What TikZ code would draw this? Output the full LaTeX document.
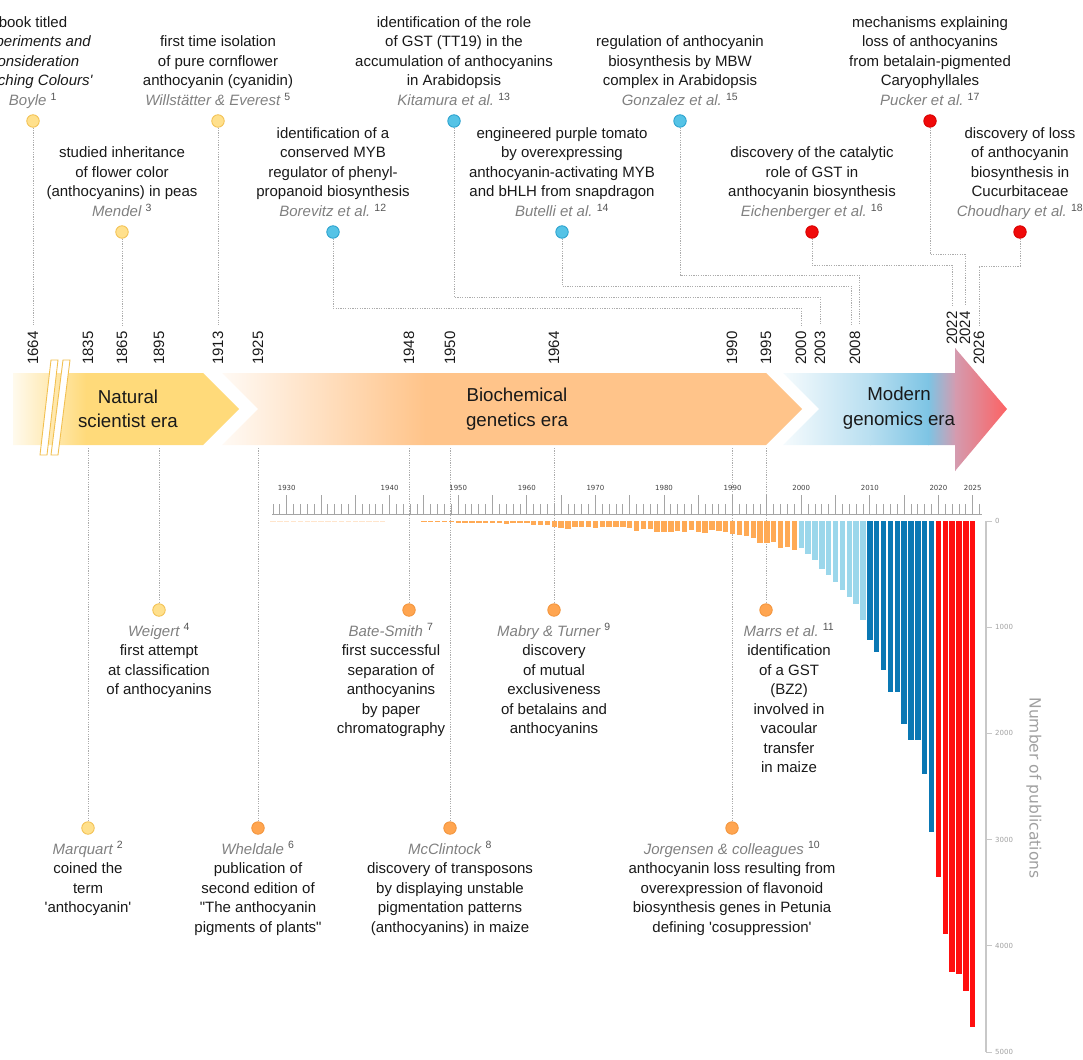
\documentclass[tikz,border=0pt]{standalone}
\usepackage{fontspec}
\setmainfont{Liberation Sans}
\newfontfamily\chartfont{DejaVu Sans}
\usetikzlibrary{positioning,calc}
\definecolor{natfill}{RGB}{255,224,140}
\definecolor{natline}{RGB}{242,192,80}
\definecolor{natarrow}{RGB}{255,218,122}
\definecolor{biofill}{RGB}{255,165,80}
\definecolor{bioline}{RGB}{242,148,60}
\definecolor{bioarrow}{RGB}{255,196,138}
\definecolor{modfill}{RGB}{85,195,230}
\definecolor{modline}{RGB}{40,160,205}
\definecolor{modarrow}{RGB}{125,196,228}
\definecolor{modmauve}{RGB}{212,155,175}
\definecolor{modred}{RGB}{255,95,95}
\definecolor{gnmfill}{RGB}{240,10,10}
\definecolor{gnmline}{RGB}{215,0,0}
\definecolor{authgrey}{RGB}{128,128,128}
\definecolor{refgrey}{RGB}{85,85,85}
\definecolor{linegrey}{RGB}{172,172,172}
\definecolor{tickgrey}{RGB}{165,165,165}
\definecolor{axisgrey}{RGB}{200,200,200}
\definecolor{pubgrey}{RGB}{160,160,160}
\definecolor{barorange}{RGB}{255,170,85}
\definecolor{barlight}{RGB}{155,215,235}
\definecolor{bardark}{RGB}{10,120,180}
\definecolor{barred}{RGB}{255,15,15}
\newcommand{\who}[2]{{\itshape\color{authgrey}#1}~{\color{refgrey}\textsuperscript{#2}}}
\newcommand{\evfont}{\fontsize{15}{19.5}\selectfont}
\newcommand{\sq}{\textquotesingle}

\begin{document}
\begin{tikzpicture}[x=1pt, y=-1pt, font=\evfont]
      \tikzstyle{ev}=[align=center, inner sep=0pt, text=black!90]
      \tikzstyle{dotN}=[circle, draw=natline, fill=natfill, line width=0.8pt, minimum size=12.5pt, inner sep=0pt]
      \tikzstyle{dotB}=[dotN, draw=bioline, fill=biofill]
      \tikzstyle{dotM}=[dotN, draw=modline, fill=modfill]
      \tikzstyle{dotG}=[dotN, draw=gnmline, fill=gnmfill]
      \tikzstyle{yr}=[rotate=90, anchor=west, inner xsep=6pt, inner ysep=0pt, text=black!90]
      \tikzstyle{tl}=[draw=linegrey, line width=1pt, dash pattern=on 1.2pt off 1.2pt]
      \tikzstyle{era}=[align=center, font=\fontsize{18.7}{24.5}\selectfont, text=black!90]
      \tikzstyle{tick}=[draw=tickgrey, line width=0.9pt]
      \tikzstyle{chartlab}=[font=\chartfont\fontsize{7}{8}\selectfont, text=black!75]
      \useasboundingbox (0,0) rectangle (1083,1059);

      % era arrows
      \begin{scope}
        \clip (13,373) -- (203,373) -- (239,409) -- (203,445) -- (13,445) -- cycle;
        \shade[left color=natarrow!10, right color=natarrow] (10,370) rectangle (86,450);
        \fill[natarrow] (85.5,370) rectangle (245,450);
      \end{scope}
      \begin{scope}
        \clip (222,373) -- (766,373) -- (802,409) -- (766,445) -- (222,445) -- (258,409) -- cycle;
        \shade[left color=bioarrow!8, right color=bioarrow] (220,370) rectangle (425,450);
        \fill[bioarrow] (424.5,370) rectangle (805,450);
      \end{scope}
      \begin{scope}
        \clip (783,373) -- (955,373) -- (955,348) -- (1007,409) -- (955,471) -- (955,445) -- (783,445) -- (819,409) -- cycle;
        \shade[left color=modarrow!6, right color=modarrow!55] (780,340) rectangle (871,480);
        \shade[left color=modarrow!55, right color=modarrow] (870,340) rectangle (929,480);
        \shade[left color=modarrow, right color=modmauve] (928,340) rectangle (956,480);
        \shade[left color=modmauve, right color=modred] (955,340) rectangle (1010,480);
      \end{scope}

      % axis break
      \filldraw[fill=white, draw=natline, line width=0.9pt] (40,455) -- (47,455) -- (58,360) -- (51,360) -- cycle;
      \filldraw[fill=white, draw=natline, line width=0.9pt] (51,455) -- (58,455) -- (70,360) -- (63,360) -- cycle;

      \node[era] (natural) at (128,409) {Natural\\scientist era};
      \node[era] (biochem) at (517,409) {Biochemical\\genetics era};
      \node[era] (modern) at (899,408) {Modern\\genomics era};

      % years
      \node[yr] (y1664) at (33,371) {1664};
      \node[yr] (y1835) at (88,371) {1835};
      \node[yr] (y1865) at (122,371) {1865};
      \node[yr] (y1895) at (159,371) {1895};
      \node[yr] (y1913) at (218,371) {1913};
      \node[yr] (y1925) at (258,371) {1925};
      \node[yr] (y1948) at (409,371) {1948};
      \node[yr] (y1950) at (450,371) {1950};
      \node[yr] (y1964) at (554,371) {1964};
      \node[yr] (y1990) at (732,371) {1990};
      \node[yr] (y1995) at (766,371) {1995};
      \node[yr] (y2000) at (801,371) {2000};
      \node[yr] (y2003) at (820,371) {2003};
      \node[yr] (y2008) at (855,371) {2008};
      \node[yr] (y2022) at (952,351) {2022};
      \node[yr] (y2024) at (965,351) {2024};
      \node[yr] (y2026) at (979,371) {2026};

      % events above the timeline
      \node[dotN] (boyle) at (33,121) {};
      \node[ev, above=3pt of boyle] (boyleT) {book titled\\{\itshape\sq Experiments and}\\{\itshape Consideration}\\{\itshape Touching Colours\sq}\\\who{Boyle}{1}\strut};
      \node[dotN] (mendel) at (122,232) {};
      \node[ev, above=3pt of mendel] (mendelT) {studied inheritance\\of flower color\\(anthocyanins) in peas\\\who{Mendel}{3}\strut};
      \node[dotN] (willst) at (218,121) {};
      \node[ev, above=3pt of willst] (willstT) {first time isolation\\of pure cornflower\\anthocyanin (cyanidin)\\\who{Willstätter \& Everest}{5}\strut};
      \node[dotM] (borevitz) at (333,232) {};
      \node[ev, above=3pt of borevitz] (borevitzT) {identification of a\\conserved MYB\\regulator of phenyl-\\propanoid biosynthesis\\\who{Borevitz et al.}{12}\strut};
      \node[dotM] (kitamura) at (454,121) {};
      \node[ev, above=3pt of kitamura] (kitamuraT) {identification of the role\\of GST (TT19) in the\\accumulation of anthocyanins\\in Arabidopsis\\\who{Kitamura et al.}{13}\strut};
      \node[dotM] (butelli) at (562,232) {};
      \node[ev, above=3pt of butelli] (butelliT) {engineered purple tomato\\by overexpressing\\anthocyanin-activating MYB\\and bHLH from snapdragon\\\who{Butelli et al.}{14}\strut};
      \node[dotM] (gonzalez) at (680,121) {};
      \node[ev, above=3pt of gonzalez] (gonzalezT) {regulation of anthocyanin\\biosynthesis by MBW\\complex in Arabidopsis\\\who{Gonzalez et al.}{15}\strut};
      \node[dotG] (eichen) at (812,232) {};
      \node[ev, above=3pt of eichen] (eichenT) {discovery of the catalytic\\role of GST in\\anthocyanin biosynthesis\\\who{Eichenberger et al.}{16}\strut};
      \node[dotG] (pucker) at (930,121) {};
      \node[ev, above=3pt of pucker] (puckerT) {mechanisms explaining\\loss of anthocyanins\\from betalain-pigmented\\Caryophyllales\\\who{Pucker et al.}{17}\strut};
      \node[dotG] (choud) at (1020,232) {};
      \node[ev, above=3pt of choud] (choudT) {discovery of loss\\of anthocyanin\\biosynthesis in\\Cucurbitaceae\\\who{Choudhary et al.}{18}\strut};

      % events below the timeline
      \node[dotN] (weigert) at (159,610) {};
      \node[ev, below=5.5pt of weigert] (weigertT) {\strut\who{Weigert}{4}\\first attempt\\at classification\\of anthocyanins};
      \node[dotN] (marquart) at (88,828) {};
      \node[ev, below=5.5pt of marquart] (marquartT) {\strut\who{Marquart}{2}\\coined the\\term\\\sq anthocyanin\sq};
      \node[dotB] (wheldale) at (258,828) {};
      \node[ev, below=5.5pt of wheldale] (wheldaleT) {\strut\who{Wheldale}{6}\\publication of\\second edition of\\\textquotedbl The anthocyanin\\pigments of plants\textquotedbl};
      \node[dotB] (batesmith) at (409,610) {};
      \node[ev, below=5.5pt of batesmith, xshift=-18pt] (batesmithT) {\strut\who{Bate-Smith}{7}\\first successful\\separation of\\anthocyanins\\by paper\\chromatography};
      \node[dotB] (mcclint) at (450,828) {};
      \node[ev, below=5.5pt of mcclint] (mcclintT) {\strut\who{McClintock}{8}\\discovery of transposons\\by displaying unstable\\pigmentation patterns\\(anthocyanins) in maize};
      \node[dotB] (mabry) at (554,610) {};
      \node[ev, below=5.5pt of mabry] (mabryT) {\strut\who{Mabry \& Turner}{9}\\discovery\\of mutual\\exclusiveness\\of betalains and\\anthocyanins};
      \node[dotB] (jorg) at (732,828) {};
      \node[ev, below=5.5pt of jorg] (jorgT) {\strut\who{Jorgensen \& colleagues}{10}\\anthocyanin loss resulting from\\overexpression of flavonoid\\biosynthesis genes in Petunia\\defining \sq cosuppression\sq};
      \node[dotB] (marrs) at (766,610) {};
      \node[ev, below=5.5pt of marrs, xshift=23pt] (marrsT) {\strut\who{Marrs et al.}{11}\\identification\\of a GST\\(BZ2)\\involved in\\vacoular\\transfer\\in maize};

      % connectors to the year labels
      \draw[tl] (boyle) -- (y1664.east);
      \draw[tl] (mendel) -- (y1865.east);
      \draw[tl] (willst) -- (y1913.east);
      \coordinate (y2008l) at ([xshift=-4pt]y2008.east);
      \coordinate (y2008r) at ([xshift=4pt]y2008.east);
      \draw[tl] (borevitz) |- (y2000.east |- 0,308) -- (y2000.east);
      \draw[tl] (kitamura) |- (y2003.east |- 0,297) -- (y2003.east);
      \draw[tl] (butelli) |- (y2008l |- 0,286) -- (y2008l);
      \draw[tl] (gonzalez) |- (y2008r |- 0,275) -- (y2008r);
      \draw[tl] (eichen) |- (y2022.east |- 0,265) -- (y2022.east);
      \draw[tl] (pucker) |- (y2024.east |- 0,254) -- (y2024.east);
      \draw[tl] (choud) |- (y2026.east |- 0,266) -- (y2026.east);
      \foreach \yr/\ev in {1835/marquart, 1895/weigert, 1925/wheldale, 1948/batesmith, 1950/mcclint, 1964/mabry, 1990/jorg, 1995/marrs}{
        \coordinate (b\yr) at (y\yr |- 0,448);
        \draw[tl] (b\yr) -- (\ev);
      }

      % publication chart
      \draw[tick] (272,514) -- (982,514);
      \foreach \k in {0,...,103}{
        \pgfmathtruncatemacro{\kmod}{mod(\k,5)}
        \ifnum\kmod=2
          \draw[tick] ({273+6.86*\k},514) -- +(0,-19);
        \else
          \draw[tick] ({273+6.86*\k},514) -- +(0,-10);
        \fi
      }
      \foreach \k/\lab in {2/1930, 17/1940, 27/1950, 37/1960, 47/1970, 57/1980, 67/1990, 77/2000, 87/2010, 97/2020, 102/2025}
        \node[chartlab] (t\lab) at ({273+6.86*\k},488) {\lab};
      \foreach \k in {0,...,16}
        \fill[barorange!30] ({273+6.86*\k-2.7},521) rectangle +(5.4,1.2);
      \foreach \yr/\n in {1945/7,1946/7,1947/7,1948/7,1949/7,1950/16,1951/16,1952/16,1953/16,1954/16,1955/16,1956/16,1957/31,1958/22,1959/22,1960/22,1961/40,1962/40,1963/40,1964/56,1965/69,1966/78,1967/54,1968/54,1969/54,1970/63,1971/56,1972/56,1973/56,1974/56,1975/69,1976/94,1977/78,1978/78,1979/104,1980/100,1981/100,1982/94,1983/104,1984/85,1985/100,1986/110,1987/85,1988/94,1989/106,1990/125,1991/132,1992/141,1993/163,1994/210,1995/204,1996/195,1997/257,1998/248,1999/276}
        \fill[barorange] ({273+6.86*(\yr-1923)-2.7},521) rectangle +(5.4,{\n*0.1062});
      \foreach \yr/\n in {2000/257,2001/308,2002/367,2003/455,2004/508,2005/575,2006/650,2007/716,2008/780,2009/930}
        \fill[barlight] ({273+6.86*(\yr-1923)-2.7},521) rectangle +(5.4,{\n*0.1062});
      \foreach \yr/\n in {2010/1120,2011/1233,2012/1400,2013/1610,2014/1610,2015/1911,2016/2062,2017/2062,2018/2382,2019/2928}
        \fill[bardark] ({273+6.86*(\yr-1923)-2.7},521) rectangle +(5.4,{\n*0.1062});
      \foreach \yr/\n in {2020/3352,2021/3889,2022/4246,2023/4266,2024/4426,2025/4765}
        \fill[barred] ({273+6.86*(\yr-1923)-2.7},521) rectangle +(5.4,{\n*0.1062});

      % count axis
      \draw[draw=axisgrey, line width=1.6pt] (986,521) -- (986,1052);
      \foreach \v in {0,1000,...,5000}{
        \draw[draw=axisgrey, line width=1pt] (986,{521+\v*0.1062}) -- +(6,0);
        \node[chartlab, text=pubgrey, anchor=west, inner sep=0pt] (c\v) at (995,{521+\v*0.1062}) {\v};
      }
      \node[rotate=-90, font=\chartfont\fontsize{15.5}{18}\selectfont, text=pubgrey] (ylab) at (1034,788) {Number of publications};
    \end{tikzpicture}
\end{document}
